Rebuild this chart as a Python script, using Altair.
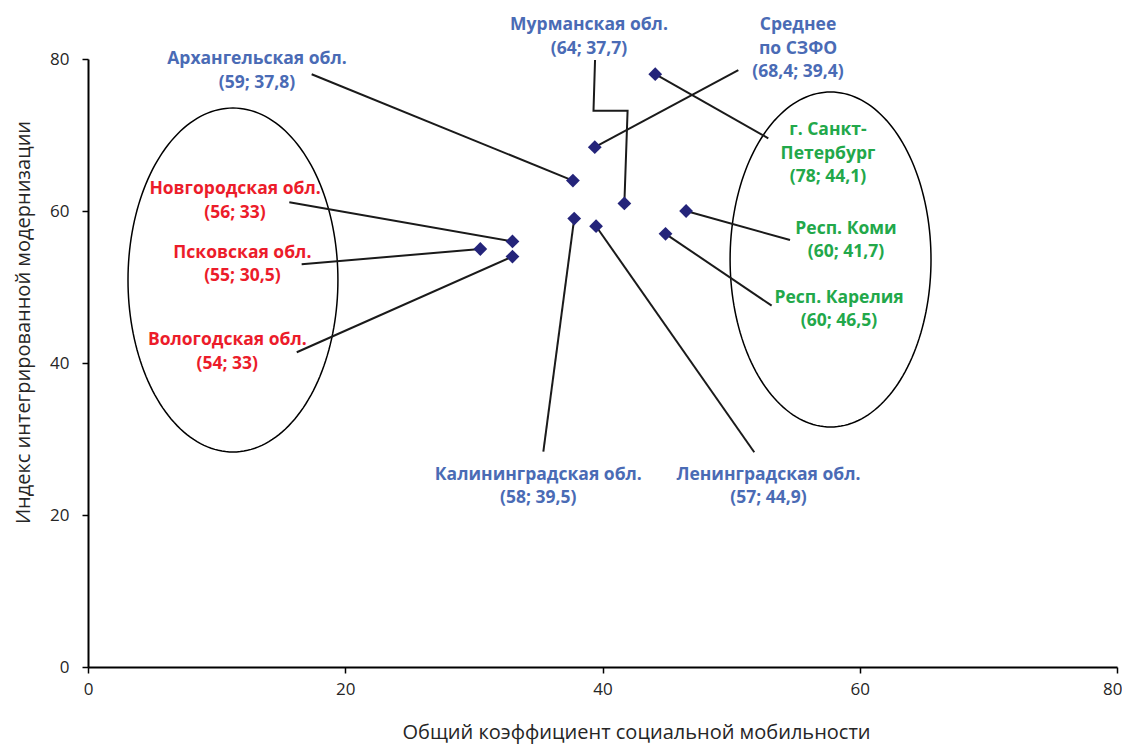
import altair as alt
import pandas as pd
import numpy as np

# ---- point data (x = social mobility, y = integrated modernization index)
regions = ["Архангельская обл.", "Мурманская обл.", "Среднее по СЗФО", "г. Санкт-Петербург",
           "Респ. Коми", "Респ. Карелия", "Новгородская обл.", "Псковская обл.",
           "Вологодская обл.", "Калининградская обл.", "Ленинградская обл."]
mobility = [37.8, 37.7, 39.4, 44.1, 41.7, 46.5, 33.0, 30.5, 33.0, 39.5, 44.9]
modernization = [59.0, 64.0, 68.4, 78.0, 61.0, 60.0, 56.0, 55.0, 54.0, 58.0, 57.0]

# ---- annotation labels (as printed on the chart)
label_text = ["Архангельская обл.\n(59; 37,8)", "Мурманская обл.\n(64; 37,7)",
              "Среднее\nпо СЗФО\n(68,4; 39,4)", "г. Санкт-\nПетербург\n(78; 44,1)",
              "Респ. Коми\n(60; 41,7)", "Респ. Карелия\n(60; 46,5)",
              "Новгородская обл.\n(56; 33)", "Псковская обл.\n(55; 30,5)",
              "Вологодская обл.\n(54; 33)", "Калининградская обл.\n(58; 39,5)",
              "Ленинградская обл.\n(57; 44,9)"]
label_group = ["blue", "blue", "blue", "green", "green", "green", "red", "red", "red", "blue", "blue"]
# anchor = centre of first line, data units
label_x = [13.14, 38.95, 55.2, 57.53, 58.93, 58.39, 11.43, 12.0, 10.83, 35.01, 52.9]
label_y = [80.0, 84.45, 84.45, 70.63, 57.68, 48.57, 62.87, 54.49, 43.0, 25.32, 25.32]

# ---- leader lines: vertices (x, y) in data units, from label to marker
leaders = [
    [(17.39, 77.99), (37.7, 64.0)],
    [(39.42, 79.87), (39.30, 73.2), (41.95, 73.2), (41.7, 61.0)],
    [(50.56, 78.55), (39.4, 68.4)],
    [(52.89, 69.57), (44.1, 78.0)],
    [(54.58, 56.18), (46.5, 60.0)],
    [(53.15, 47.54), (44.9, 57.0)],
    [(15.65, 61.14), (33.0, 56.0)],
    [(16.61, 52.99), (30.5, 55.0)],
    [(16.23, 41.41), (33.0, 54.0)],
    [(35.4, 28.33), (37.8, 59.0)],
    [(51.8, 28.25), (39.5, 58.0)],
]

# ---- group ellipses: centre x, centre y, radius x, radius y (data units)
ellipses = [(11.27, 50.92, 8.16, 22.63), (57.73, 53.62, 7.81, 22.04)]

# ---------------------------------------------------------------------------
pts = pd.DataFrame({"region": regions, "x": mobility, "y": modernization})
labels = pd.DataFrame({"text": label_text, "group": label_group, "x": label_x, "y": label_y})

lead_rows = []
for i, path in enumerate(leaders):
    for j, (vx, vy) in enumerate(path):
        lead_rows.append({"id": i, "ord": j, "x": vx, "y": vy})
lead_df = pd.DataFrame(lead_rows)

ell_rows = []
t = np.linspace(0, 2 * np.pi, 181)
for i, (cx, cy, rx, ry) in enumerate(ellipses):
    for j, a in enumerate(t):
        ell_rows.append({"id": i, "ord": j, "x": cx + rx * np.cos(a), "y": cy + ry * np.sin(a)})
ell_df = pd.DataFrame(ell_rows)

FONT = "Open Sans"
xs = alt.Scale(domain=[0, 80], nice=False, zero=False)
ys = alt.Scale(domain=[0, 80], nice=False, zero=False)

x_axis = alt.Axis(values=[0, 20, 40, 60, 80], grid=False, domainColor="black", domainWidth=2,
                  tickColor="black", tickSize=6, tickWidth=1.5, labelFont=FONT, labelFontSize=17,
                  labelColor="#262626", labelPadding=8,
                  labelAlign={"condition": {"test": "datum.value == 80", "value": "right"}, "value": "center"},
                  labelOffset={"condition": {"test": "datum.value == 80", "value": 5}, "value": 0},
                  titleFont=FONT, titleFontSize=20, titleFontWeight="normal", titleColor="#262626",
                  titleX=548, titleY=65, titleAlign="center", titleBaseline="middle")
y_axis = alt.Axis(values=[0, 20, 40, 60, 80], grid=False, domainColor="black", domainWidth=2,
                  tickColor="black", tickSize=6, tickWidth=1.5, labelFont=FONT, labelFontSize=17,
                  labelColor="#262626", labelPadding=13,
                  titleFont=FONT, titleFontSize=20, titleFontWeight="normal", titleColor="#262626",
                  titleX=-65, titleY=263, titleAlign="center", titleBaseline="middle", titleAngle=-90)

X_TITLE = "Общий коэффициент социальной мобильности"
Y_TITLE = "Индекс интегрированной модернизации"

ell = alt.Chart(ell_df).mark_line(color="black", strokeWidth=1.5).encode(
    x=alt.X("x:Q", scale=xs, axis=x_axis, title=X_TITLE),
    y=alt.Y("y:Q", scale=ys, axis=y_axis, title=Y_TITLE),
    detail="id:N", order="ord:Q")

lead = alt.Chart(lead_df).mark_line(color="#1a1a1a", strokeWidth=2).encode(
    x="x:Q", y="y:Q", detail="id:N", order="ord:Q")

points = alt.Chart(pts).mark_point(shape="diamond", filled=True, size=190, color="#24247A",
                                   opacity=1).encode(x="x:Q", y="y:Q")

text = alt.Chart(labels).mark_text(font=FONT, fontWeight="bold", fontSize=17.5, lineHeight=23.5,
                                   align="center", baseline="middle").encode(
    x="x:Q", y="y:Q", text="text:N",
    color=alt.Color("group:N", scale=alt.Scale(domain=["blue", "red", "green"],
                                               range=["#4A6BB5", "#EC1C2A", "#22A84A"]),
                    legend=None))

chart = alt.layer(ell, lead, points, text).properties(
    width=1029, height=608,
    autosize=alt.AutoSizeParams(type="none"),
    padding={"left": 80, "top": 51, "right": 5, "bottom": 78},
).configure_view(stroke=None).configure_text(lineBreak="\n")

chart.save("out.html", embed_options={"renderer": "svg", "actions": False})
